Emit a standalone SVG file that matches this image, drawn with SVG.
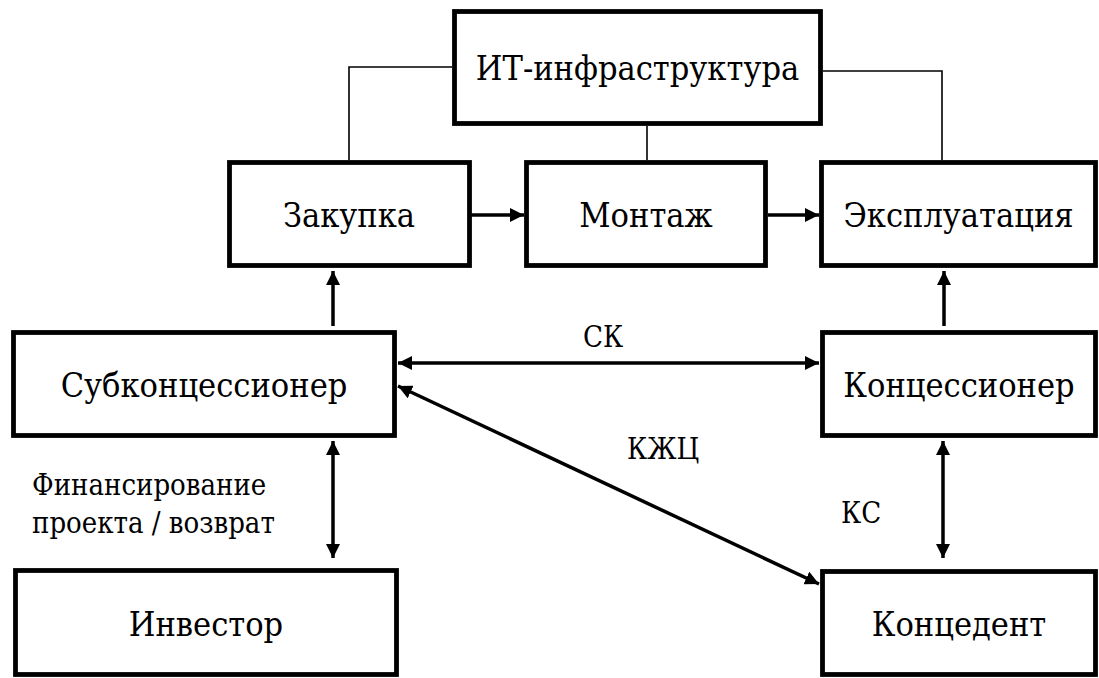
<svg xmlns="http://www.w3.org/2000/svg" width="1099" height="678" viewBox="0 0 1099 678">
<style>
.box{fill:#fff;stroke:#000;stroke-width:4.8}
.t{font-family:'DejaVu Serif Condensed','DejaVu Serif',serif;font-stretch:condensed;font-size:34px;fill:#000;text-anchor:middle}
.l{font-family:'DejaVu Serif Condensed','DejaVu Serif',serif;font-stretch:condensed;font-size:29px;fill:#000}
.thin{fill:none;stroke:#000;stroke-width:1.6}
.arr{fill:none;stroke:#000;stroke-width:3.5}
</style>
<defs>
<marker id="ah" markerUnits="userSpaceOnUse" markerWidth="15" markerHeight="14" refX="14" refY="7" orient="auto-start-reverse" viewBox="0 0 15 14">
<path d="M0,0 L14,7 L0,14 z" fill="#000"/>
</marker>
</defs>
<rect width="1099" height="678" fill="#fff"/>
<g id="connectors">
<path class="thin" d="M452,67 H349 V160"/>
<path class="thin" d="M647,126 V160"/>
<path class="thin" d="M823,71 H942 V160"/>
<line class="arr" x1="471" y1="215" x2="524" y2="215" marker-end="url(#ah)"/>
<line class="arr" x1="768" y1="215" x2="819" y2="215" marker-end="url(#ah)"/>
<line class="arr" x1="333" y1="326" x2="333" y2="271" marker-end="url(#ah)"/>
<line class="arr" x1="944" y1="326" x2="944" y2="271" marker-end="url(#ah)"/>
<line class="arr" x1="333" y1="441" x2="333" y2="558" marker-start="url(#ah)" marker-end="url(#ah)"/>
<line class="arr" x1="943" y1="441" x2="943" y2="558" marker-start="url(#ah)" marker-end="url(#ah)"/>
<line class="arr" x1="398" y1="363" x2="819" y2="363" marker-start="url(#ah)" marker-end="url(#ah)"/>
<line class="arr" x1="398" y1="386" x2="819" y2="584" marker-start="url(#ah)" marker-end="url(#ah)"/>
<text class="l" x="583" y="347">СК</text>
<text class="l" x="627" y="459">КЖЦ</text>
<text class="l" x="841" y="523">КС</text>
<text class="l" x="32" y="495">Финансирование</text>
<text class="l" x="32" y="533">проекта / возврат</text>
</g>
<g id="it"><rect class="box" x="454.5" y="11.5" width="366" height="112"/><text class="t" x="637.5" y="80">ИТ-инфраструктура</text></g>
<g id="zakupka"><rect class="box" x="229.5" y="162.5" width="240" height="103"/><text class="t" x="349" y="227">Закупка</text></g>
<g id="montazh"><rect class="box" x="526.5" y="162.5" width="239" height="103"/><text class="t" x="646" y="227">Монтаж</text></g>
<g id="ekspl"><rect class="box" x="821.5" y="162.5" width="274" height="103"/><text class="t" x="958.5" y="227">Эксплуатация</text></g>
<g id="subkons"><rect class="box" x="13.5" y="332.5" width="381" height="103"/><text class="t" x="204" y="397">Субконцессионер</text></g>
<g id="kons"><rect class="box" x="822.5" y="332.5" width="273" height="103"/><text class="t" x="959" y="397">Концессионер</text></g>
<g id="investor"><rect class="box" x="15.5" y="570.5" width="381" height="104"/><text class="t" x="206" y="636">Инвестор</text></g>
<g id="koncedent"><rect class="box" x="822.5" y="571.5" width="273" height="103"/><text class="t" x="959" y="636">Концедент</text></g>
</svg>
